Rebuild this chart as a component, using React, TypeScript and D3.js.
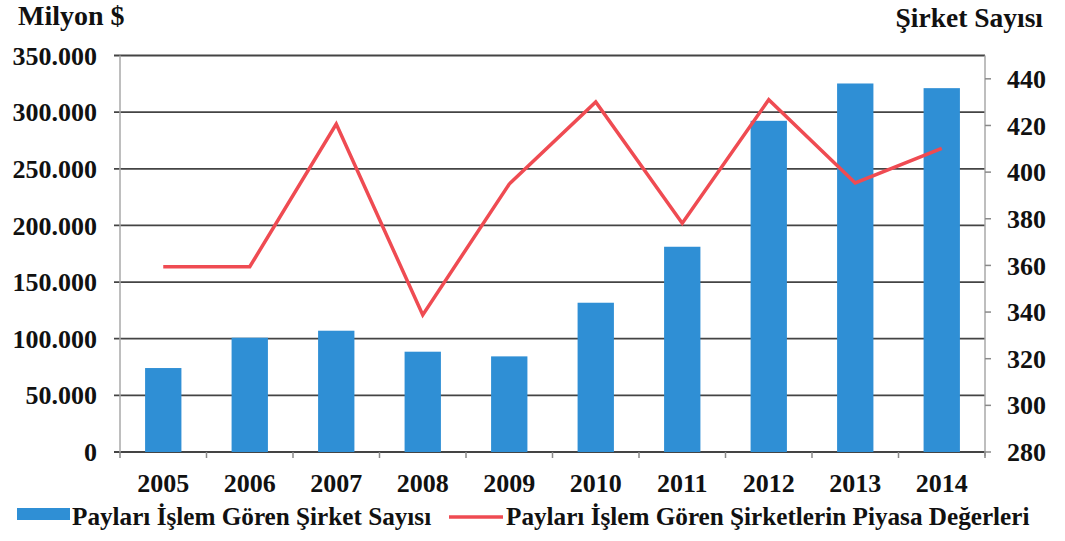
import React from "react";
import * as d3 from "d3";

const years = ["2005", "2006", "2007", "2008", "2009", "2010", "2011", "2012", "2013", "2014"];
// Bars: number of listed companies (right axis)
const companyCount = [316, 329, 332, 323, 321, 344, 368, 422, 438, 436];
// Line: market value, million $ (left axis)
const marketValue = [163500, 163500, 289500, 121000, 236500, 309000, 202000, 311000, 237500, 268000];
const leftTicks = [0, 50000, 100000, 150000, 200000, 250000, 300000, 350000];
const rightTicks = [280, 300, 320, 340, 360, 380, 400, 420, 440];
const leftTitle = "Milyon $";
const rightTitle = "Şirket Sayısı";
const barLegend = "Payları İşlem Gören Şirket Sayısı";
const lineLegend = "Payları İşlem Gören Şirketlerin Piyasa Değerleri";

const W = 1065;
const H = 541;
const L = 120;
const R = 985;
const T = 55.5;
const B = 452;
const FONT = "'Liberation Serif', 'Times New Roman', 'DejaVu Serif', serif";
const BLUE = "#2f8fd5";
const RED = "#ef4b52";

const trLocale = d3.formatLocale({ decimal: ",", thousands: ".", grouping: [3], currency: ["", "$"] });
const fmt = trLocale.format(",");

const txt: React.CSSProperties = { fontFamily: FONT, fontWeight: 700 };

export default function App() {
  const x = d3.scaleBand<string>().domain(years).range([L, R]).paddingInner(0.58).paddingOuter(0.29);
  const yL = d3.scaleLinear().domain([0, 350000]).range([B, T]);
  const yR = d3.scaleLinear().domain([280, 450]).range([B, T]);
  const step = x.step();
  const cx = (d: string) => (x(d) as number) + x.bandwidth() / 2;
  const line = d3
    .line<number>()
    .x((_, i) => cx(years[i]))
    .y((v) => yL(v));

  return (
    <svg width={W} height={H} style={{ position: "absolute", left: 0, top: 0, background: "#fff", fontFamily: FONT }}>
      <rect x={0} y={0} width={W} height={H} fill="#fff" />
      {/* gridlines */}
      {leftTicks.map((t) => (
        <line key={"g" + t} x1={L - 6} x2={R} y1={yL(t)} y2={yL(t)} stroke="#444" strokeWidth={1.8} />
      ))}
      {/* left axis */}
      <line x1={L} x2={L} y1={T} y2={B} stroke="#a8a8a8" strokeWidth={1.5} />
      {/* right axis */}
      <line x1={R} x2={R} y1={T} y2={B + 4} stroke="#a8a8a8" strokeWidth={1.5} />
      {rightTicks.map((t) => (
        <line key={"rt" + t} x1={R} x2={R + 6} y1={yR(t)} y2={yR(t)} stroke="#8a8a8a" strokeWidth={1.5} />
      ))}
      {/* x ticks */}
      {d3.range(years.length + 1).map((i) => (
        <line key={"xt" + i} x1={L + i * step} x2={L + i * step} y1={B} y2={B + 6} stroke="#8a8a8a" strokeWidth={1.5} />
      ))}
      {/* bars */}
      {years.map((y, i) => (
        <rect key={"b" + y} x={x(y)} y={yR(companyCount[i])} width={x.bandwidth()} height={B - yR(companyCount[i])} fill={BLUE} />
      ))}
      {/* line */}
      <path d={line(marketValue) || ""} fill="none" stroke={RED} strokeWidth={3.5} strokeLinejoin="miter" />
      {/* left tick labels */}
      {leftTicks.map((t) => (
        <text key={"lt" + t} x={97} y={yL(t)} dy="0.35em" textAnchor="end" fontSize={26} fill="#111" style={txt}>
          {fmt(t)}
        </text>
      ))}
      {/* right tick labels */}
      {rightTicks.map((t) => (
        <text key={"rl" + t} x={1007} y={yR(t)} dy="0.35em" textAnchor="start" fontSize={26} fill="#111" style={txt}>
          {t}
        </text>
      ))}
      {/* x labels */}
      {years.map((y) => (
        <text key={"xl" + y} x={cx(y)} y={492} textAnchor="middle" fontSize={26} fill="#111" style={txt}>
          {y}
        </text>
      ))}
      {/* axis titles */}
      <text x={18} y={25} fontSize={28} fill="#111" style={txt}>{leftTitle}</text>
      <text x={1043} y={27} fontSize={27.5} textAnchor="end" fill="#111" style={txt}>{rightTitle}</text>
      {/* legend */}
      <rect x={17} y={508} width={53} height={12} fill={BLUE} />
      <text x={72} y={525} fontSize={25.2} fill="#111" style={txt}>{barLegend}</text>
      <line x1={449} x2={503} y1={517} y2={517} stroke={RED} strokeWidth={3.5} />
      <text x={506} y={525} fontSize={25.2} fill="#111" style={txt}>{lineLegend}</text>
    </svg>
  );
}
